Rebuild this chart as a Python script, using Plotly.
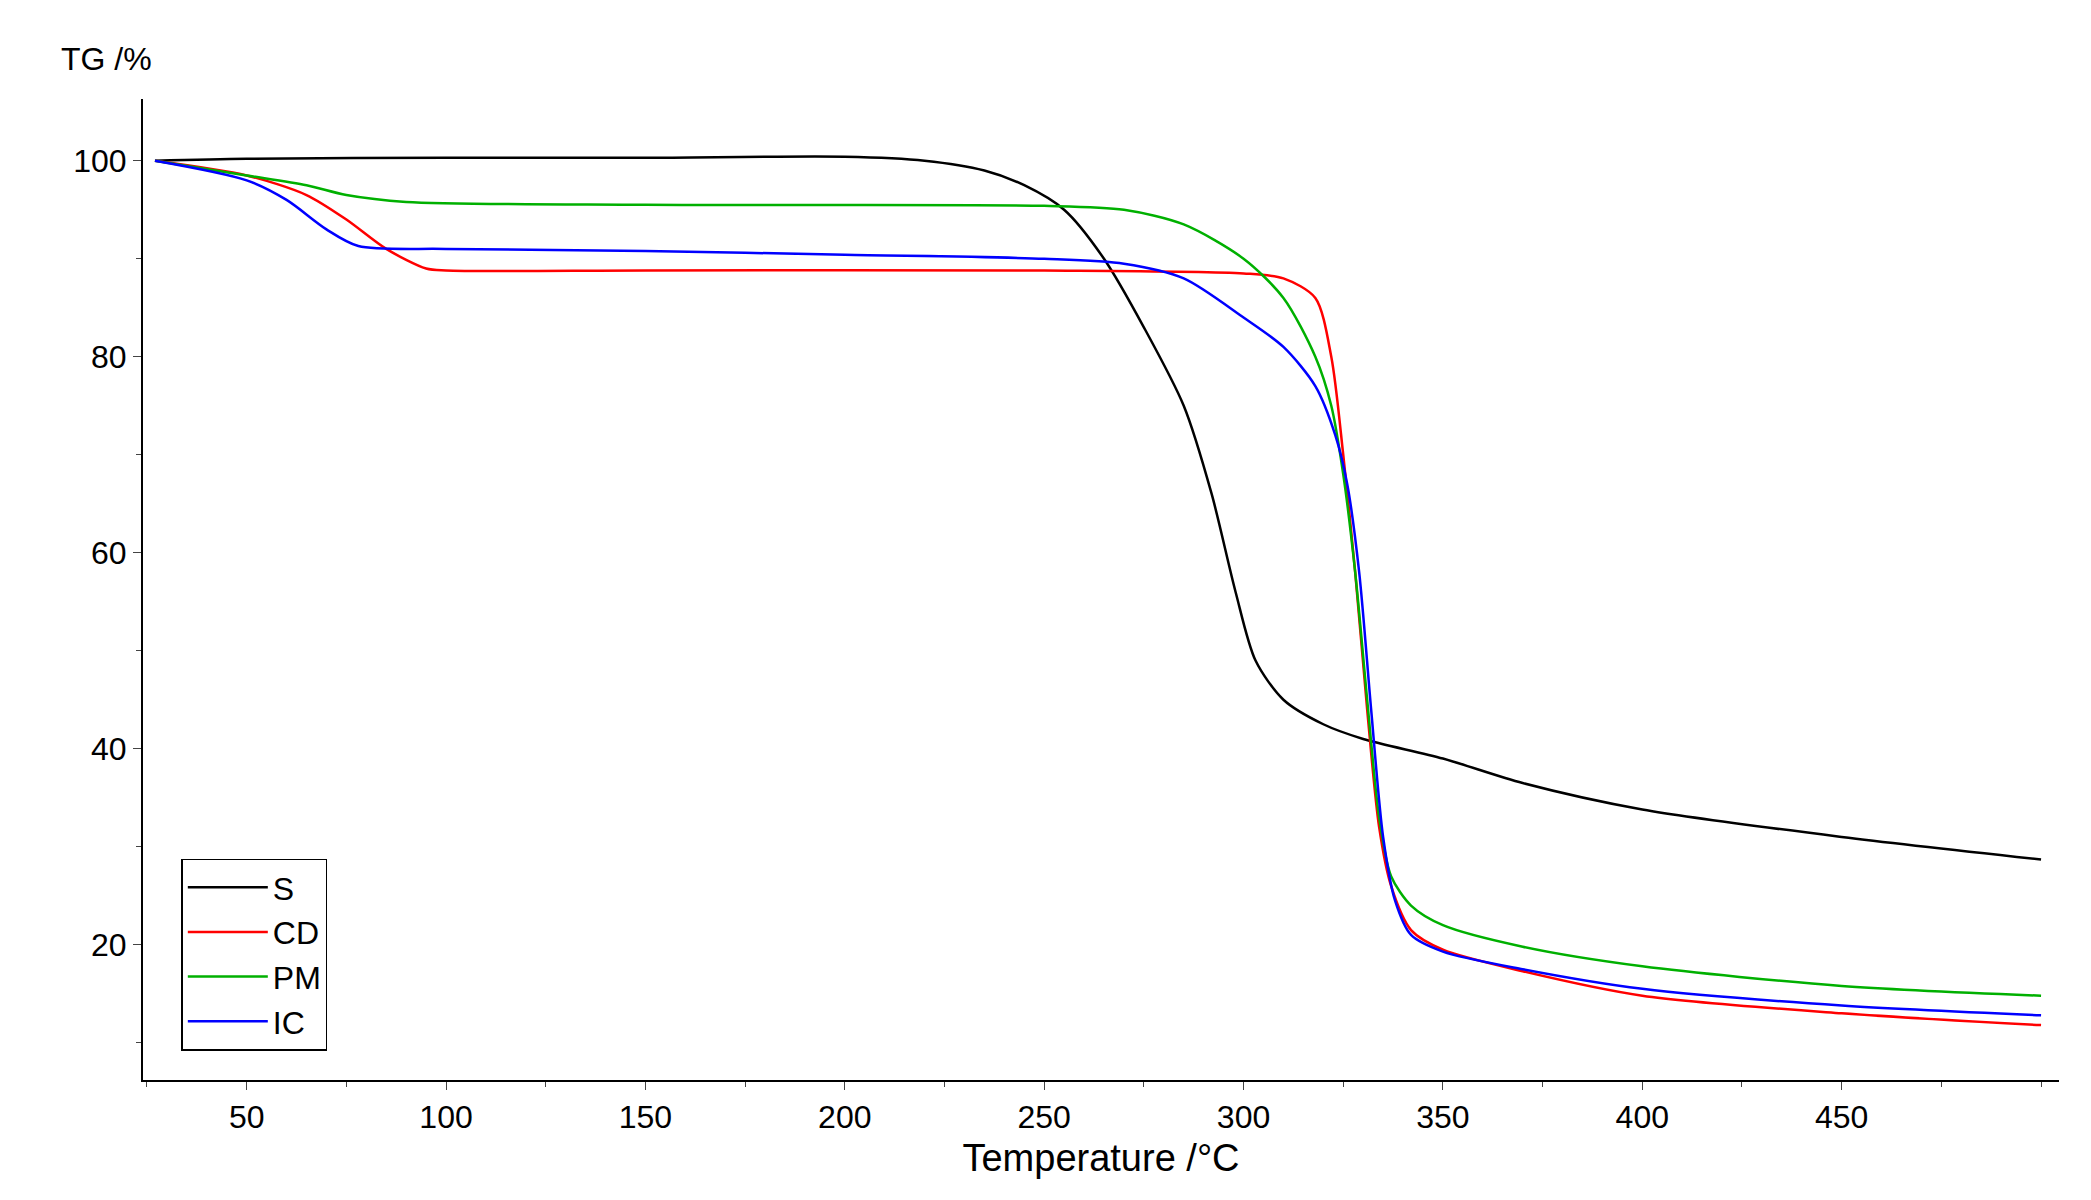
import plotly.graph_objects as go

S_x = [27,50,100,150,200,220,235,245,255,265,275,285,292,298,303,310,320,330,350,370,400,450,500]
S_y = [100,100.2,100.3,100.3,100.4,100,99,97.5,95,90,83,75,66,56,49,45,42.5,41,39,36.5,33.8,31,28.7]
CD_x = [27,50,65,75,85,95,100,150,250,300,310,318,322,325,328,331,334,337,342,350,370,400,450,500]
CD_y = [100,98.5,96.5,94,91,89,88.8,88.8,88.8,88.5,88,86,80,70,58,44,32,26,21.5,19.5,17.3,14.8,13,11.8]
PM_x = [27,50,65,75,90,150,250,270,285,300,310,318,322,325,328,331,334,337,342,350,370,400,450,500]
PM_y = [100,98.5,97.5,96.5,95.8,95.5,95.4,95,93.5,90,86,80,75,68,58,45,33,27,24,22,19.8,17.8,15.8,14.8]
IC_x = [27,50,60,70,78,100,150,200,250,270,285,300,310,318,323,326,329,332,335,338,342,350,370,400,450,500]
IC_y = [100,98,96,93,91.3,91,90.8,90.4,90,89.5,88,84,81,77,72,67,58,44,31,24.5,21,19.3,17.5,15.5,13.8,12.8]

series = [("S", S_x, S_y, "#000000"), ("CD", CD_x, CD_y, "#ff0000"),
          ("PM", PM_x, PM_y, "#00b000"), ("IC", IC_x, IC_y, "#0000ff")]

fig = go.Figure()
for name, x, y, c in series:
    fig.add_trace(go.Scatter(x=x, y=y, name=name, mode="lines",
                             line=dict(color=c, width=2.5, shape="spline", smoothing=0.8)))

fig.update_layout(
    width=2091, height=1200, paper_bgcolor="white", plot_bgcolor="white",
    margin=dict(l=135, r=40, t=91, b=128),
    font=dict(family="Liberation Sans, Arial", size=32, color="#000"),
    legend=dict(x=0.02, y=0.03, xanchor="left", yanchor="bottom",
                bordercolor="#000", borderwidth=1.5, bgcolor="white",
                font=dict(size=32), itemwidth=80, tracegroupgap=0),
    annotations=[dict(text="TG /%", xref="paper", yref="paper", x=0.006, y=1.02,
                      xanchor="right", yanchor="bottom", showarrow=False, font=dict(size=32))],
)
fig.update_xaxes(range=[24, 504.5], showgrid=False, zeroline=False, showline=True,
                 linecolor="#000", linewidth=2, ticks="outside", ticklen=8,
                 tickvals=[50,100,150,200,250,300,350,400,450],
                 minor=dict(dtick=25, tick0=0, ticks="outside", ticklen=5),
                 title=dict(text="Temperature /°C", standoff=10))
fig.update_yaxes(range=[6.2, 106.3], showgrid=False, zeroline=False, showline=True,
                 linecolor="#000", linewidth=2, ticks="outside", ticklen=8,
                 tickvals=[20,40,60,80,100],
                 minor=dict(dtick=10, tick0=0, ticks="outside", ticklen=5))
fig.write_html("out.html")
